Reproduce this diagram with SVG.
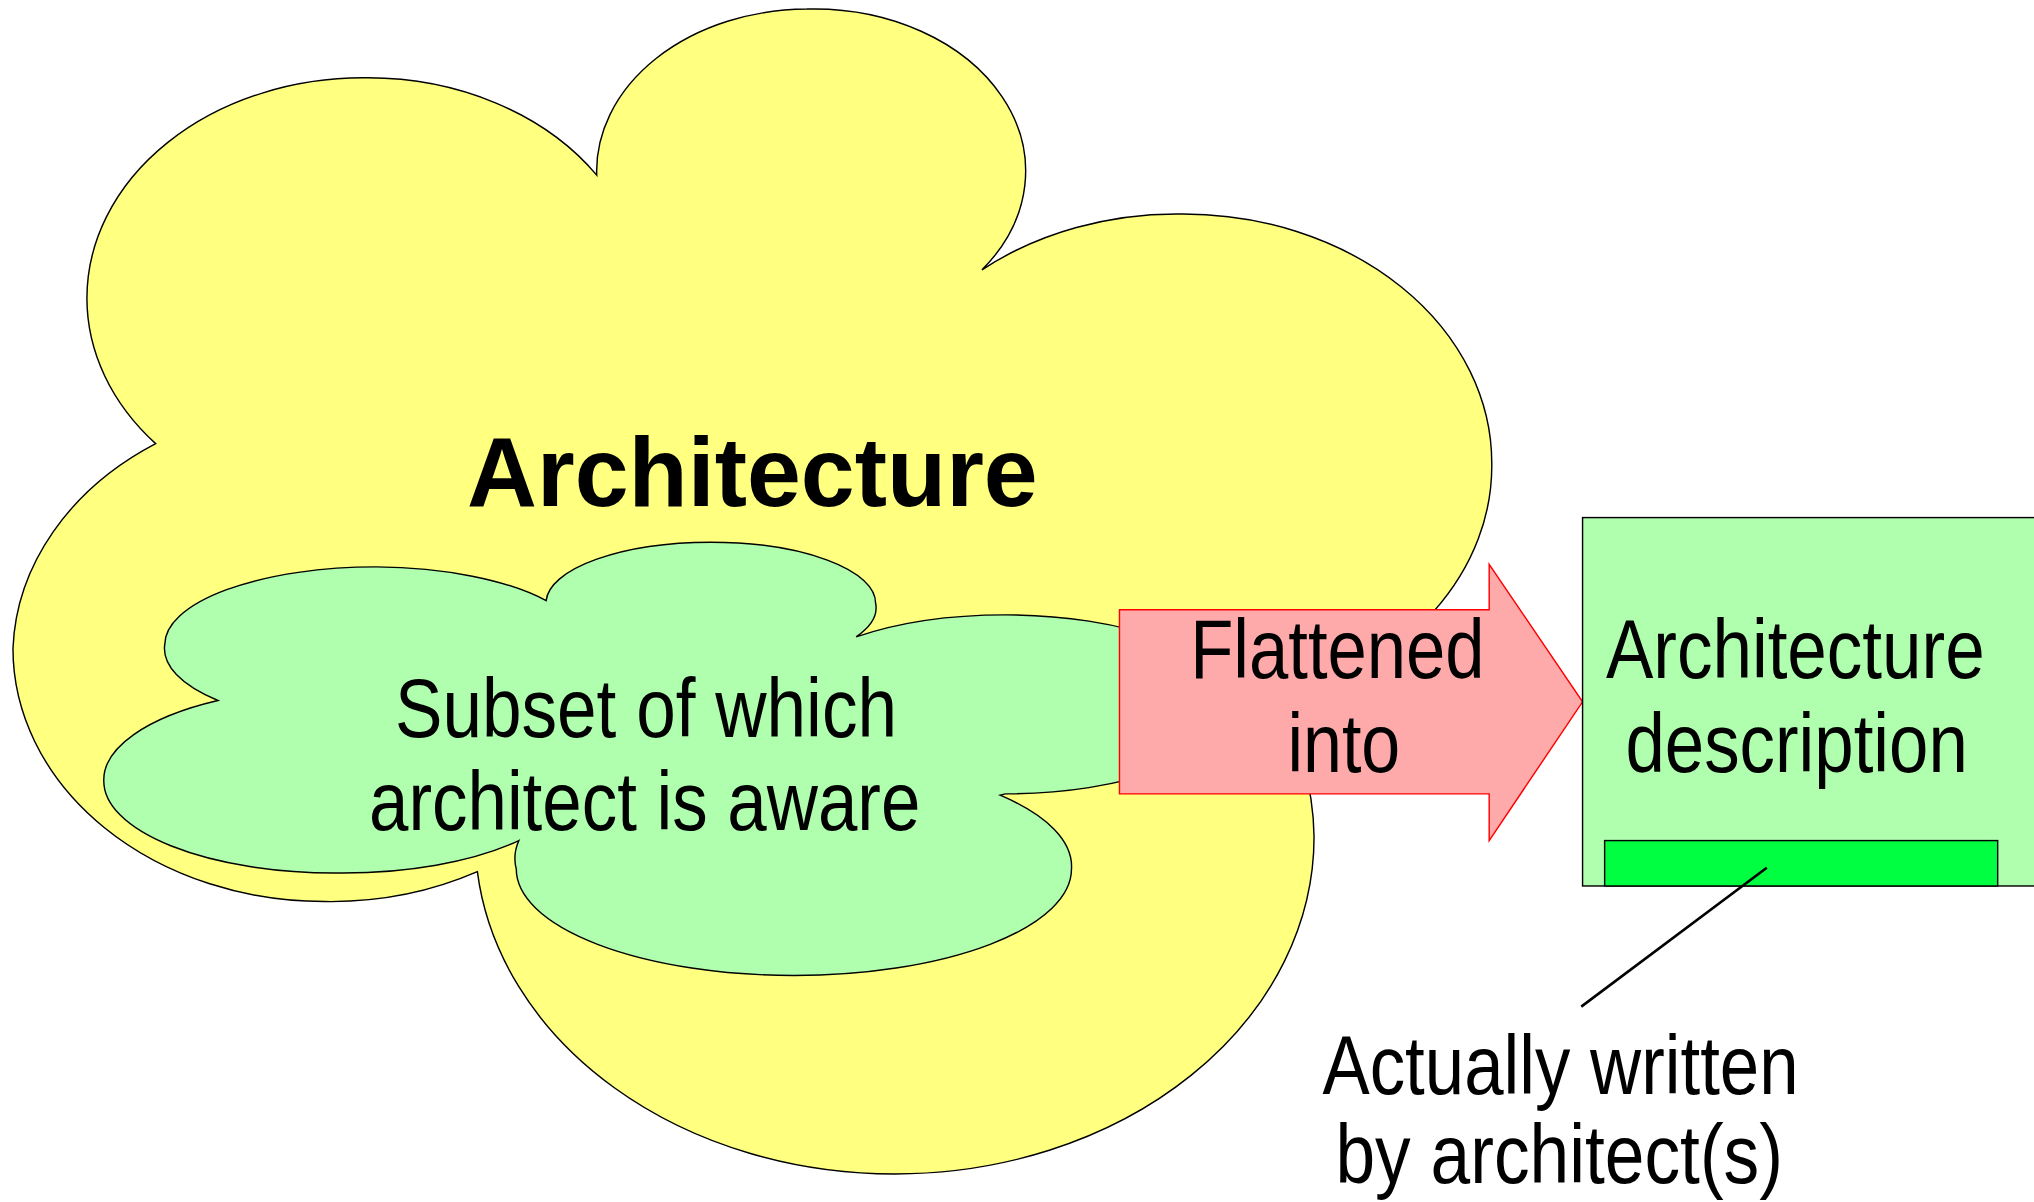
<svg xmlns="http://www.w3.org/2000/svg" width="2034" height="1202" viewBox="0 0 2034 1202">
<style>
.cloud{stroke:#000;stroke-width:1.1}
.t{font-family:"Liberation Sans",Arial,sans-serif;font-size:64px;fill:#000;text-anchor:middle}
.b{font-weight:bold;font-size:76px}
</style>
<rect width="2034" height="1202" fill="#fff"/>
<g transform="scale(1.29719)">
<g id="architecture">
<path class="cloud" fill="#FFFF80" d="M120,342 A213,170 0 0 1 67,230 A213,170 0 0 1 280,60 A213,170 0 0 1 460,135 A163,125 0 0 1 622,7 A163,125 0 0 1 757,208 A238,192 0 0 1 912,165 A238,192 0 0 1 1150,357 A238,192 0 0 1 985,542 A323,260 0 0 1 1013,645 A323,260 0 0 1 690,905 A323,260 0 0 1 368,672 A240,195 0 0 1 250,695 A240,195 0 0 1 10,500 A240,195 0 0 1 120,342 Z"/>
<text class="t b" x="580" y="390" textLength="440" lengthAdjust="spacingAndGlyphs">Architecture</text>
</g>
<g id="subset">
<path class="cloud" fill="#AFFFAF" d="M168,540 A163,60 0 0 1 127,497 A163,60 0 0 1 290,437 A163,60 0 0 1 421,463 A127,47 0 0 1 548,418 A127,47 0 0 1 675,465 A127,47 0 0 1 660,491 A175,69 0 0 1 775,474 A175,69 0 0 1 950,543 A175,69 0 0 1 775,612 L771,613 A214,82 0 0 1 826,670 A214,82 0 0 1 612,752 A214,82 0 0 1 398,670 A214,82 0 0 1 400,648 A178,71 0 0 1 258,673 A178,71 0 0 1 80,602 A178,71 0 0 1 168,540 Z"/>
<text class="t" x="498" y="568" textLength="387" lengthAdjust="spacingAndGlyphs">Subset of which</text>
<text class="t" x="497" y="640" textLength="425" lengthAdjust="spacingAndGlyphs">architect is aware</text>
</g>
<g id="flatten">
<polygon points="863,470 1148,470 1148,435 1220,541 1148,648 1148,612 863,612" fill="#FFAAAA" stroke="#FF0000" stroke-width="1.1"/>
<text class="t" x="1031" y="523" textLength="227" lengthAdjust="spacingAndGlyphs">Flattened</text>
<text class="t" x="1036" y="595" textLength="87" lengthAdjust="spacingAndGlyphs">into</text>
</g>
<g id="description">
<rect x="1220" y="399" width="400" height="284" fill="#AFFFAF" stroke="#000" stroke-width="1.1"/>
<rect x="1237" y="648" width="303" height="35" fill="#00FF40" stroke="#000" stroke-width="1.1"/>
<text class="t" x="1384" y="523" textLength="292" lengthAdjust="spacingAndGlyphs">Architecture</text>
<text class="t" x="1385" y="595" textLength="264" lengthAdjust="spacingAndGlyphs">description</text>
</g>
<g id="connectors">
<line x1="1362" y1="669" x2="1219" y2="776" stroke="#000" stroke-width="2"/>
</g>
<g id="written">
<text class="t" x="1203" y="843" textLength="367" lengthAdjust="spacingAndGlyphs">Actually written</text>
<text class="t" x="1202" y="912" textLength="345" lengthAdjust="spacingAndGlyphs">by architect(s)</text>
</g>
</g>
</svg>
